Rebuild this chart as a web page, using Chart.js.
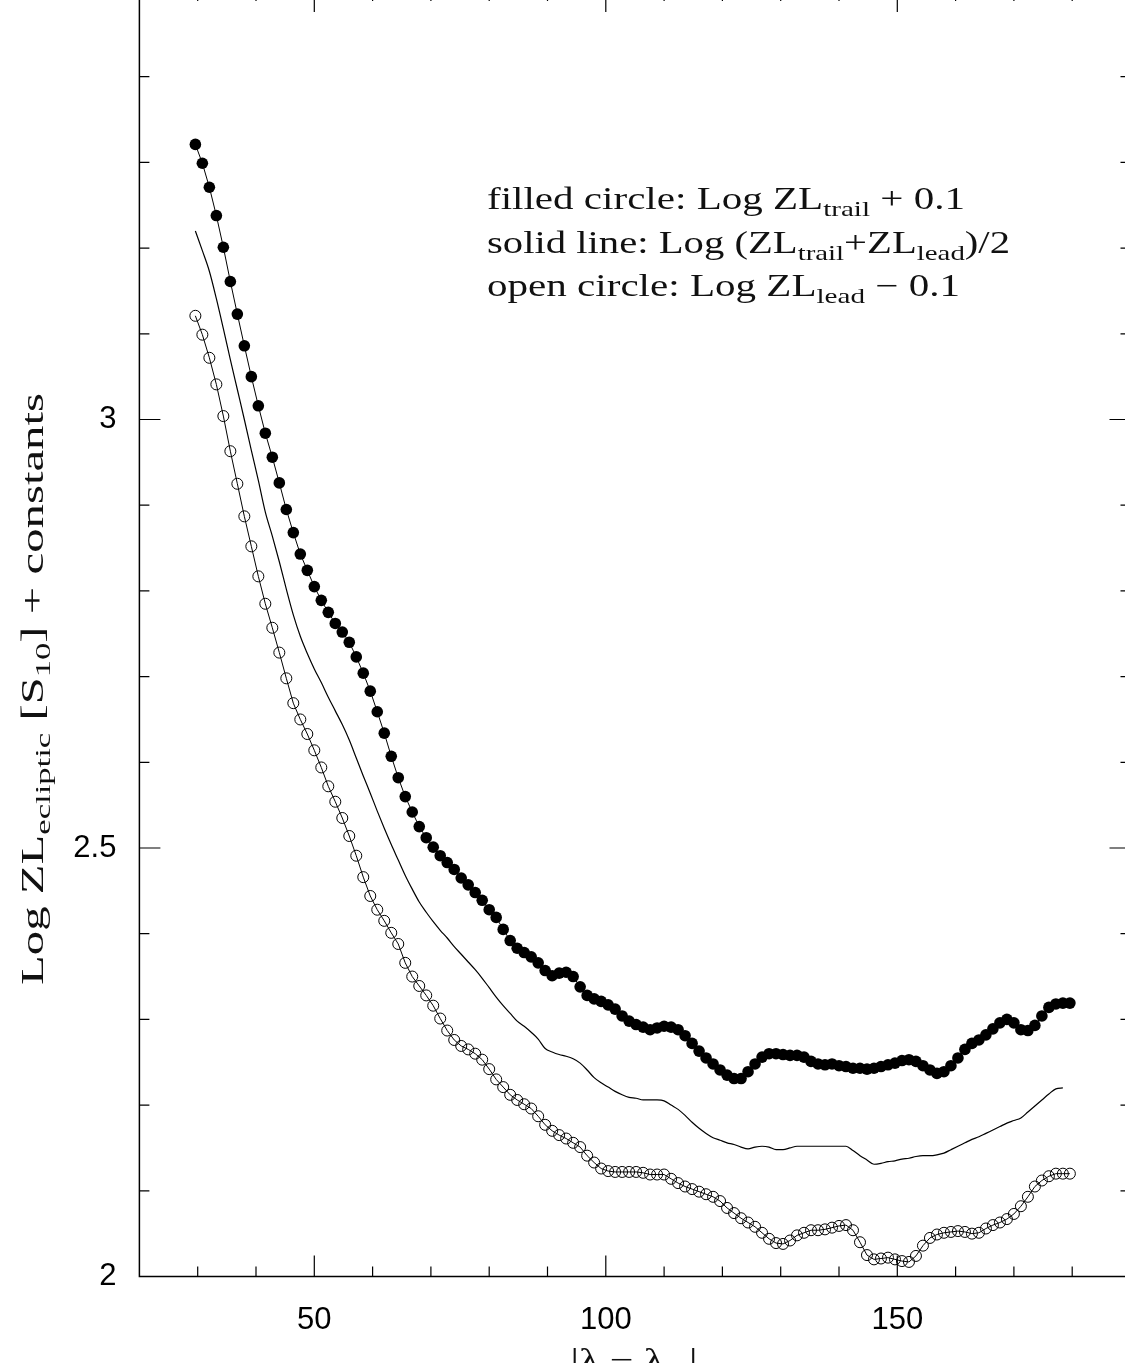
<!DOCTYPE html>
<html>
<head>
<meta charset="utf-8">
<script src="https://cdn.jsdelivr.net/npm/chart.js@4.4.0/dist/chart.umd.min.js"></script>
<style>
  html, body { margin: 0; padding: 0; background: #fff; overflow: hidden; }
  #wrap { position: absolute; left: 0; top: -20px; width: 1160px; height: 1400px; }
</style>
</head>
<body>
<div id="wrap"><canvas id="zl" width="1160" height="1400"></canvas></div>
<script>
// elongation |lambda - lambda_sun| in degrees
const lambda = [
  29.6, 30.8, 32.0, 33.2, 34.4, 35.6, 36.8, 38.0, 39.2, 40.4,
  41.6, 42.8, 44.0, 45.2, 46.4, 47.6, 48.8, 50.0, 51.2, 52.4,
  53.6, 54.8, 56.0, 57.2, 58.4, 59.6, 60.8, 62.0, 63.2, 64.4,
  65.6, 66.8, 68.0, 69.2, 70.4, 71.6, 72.8, 74.0, 75.2, 76.4,
  77.6, 78.8, 80.0, 81.2, 82.4, 83.6, 84.8, 86.0, 87.2, 88.4,
  89.6, 90.8, 92.0, 93.2, 94.4, 95.6, 96.8, 98.0, 99.2, 100.4,
  101.6, 102.8, 104.0, 105.2, 106.4, 107.6, 108.8, 110.0, 111.2, 112.4,
  113.6, 114.8, 116.0, 117.2, 118.4, 119.6, 120.8, 122.0, 123.2, 124.4,
  125.6, 126.8, 128.0, 129.2, 130.4, 131.6, 132.8, 134.0, 135.2, 136.4,
  137.6, 138.8, 140.0, 141.2, 142.4, 143.6, 144.8, 146.0, 147.2, 148.4,
  149.6, 150.8, 152.0, 153.2, 154.4, 155.6, 156.8, 158.0, 159.2, 160.4,
  161.6, 162.8, 164.0, 165.2, 166.4, 167.6, 168.8, 170.0, 171.2, 172.4,
  173.6, 174.8, 176.0, 177.2, 178.4, 179.6
];

// filled circles: Log ZL_trail + 0.1
const trail = [
  3.321, 3.299, 3.271, 3.238, 3.201, 3.161, 3.123, 3.086, 3.050, 3.016,
  2.984, 2.956, 2.926, 2.895, 2.868, 2.843, 2.824, 2.805, 2.789, 2.775,
  2.762, 2.752, 2.740, 2.723, 2.704, 2.683, 2.659, 2.634, 2.607, 2.582,
  2.560, 2.542, 2.525, 2.512, 2.501, 2.491, 2.483, 2.475, 2.465, 2.457,
  2.448, 2.439, 2.428, 2.419, 2.405, 2.392, 2.383, 2.378, 2.373, 2.366,
  2.357, 2.351, 2.354, 2.355, 2.350, 2.338, 2.328, 2.324, 2.321, 2.317,
  2.312, 2.304, 2.298, 2.294, 2.291, 2.288, 2.290, 2.292, 2.291, 2.288,
  2.281, 2.272, 2.263, 2.255, 2.248, 2.241, 2.235, 2.231, 2.231, 2.239,
  2.248, 2.256, 2.260, 2.260, 2.259, 2.258, 2.258, 2.256, 2.251, 2.248,
  2.247, 2.248, 2.246, 2.245, 2.243, 2.243, 2.242, 2.243, 2.245, 2.247,
  2.249, 2.252, 2.253, 2.251, 2.246, 2.241, 2.237, 2.239, 2.246, 2.255,
  2.265, 2.272, 2.276, 2.282, 2.289, 2.296, 2.300, 2.296, 2.288, 2.287,
  2.293, 2.304, 2.314, 2.318, 2.319, 2.319
];

// open circles: Log ZL_lead - 0.1
const lead = [
  3.121, 3.099, 3.072, 3.041, 3.004, 2.963, 2.925, 2.887, 2.852, 2.817,
  2.785, 2.757, 2.728, 2.698, 2.669, 2.650, 2.633, 2.614, 2.594, 2.572,
  2.554, 2.535, 2.514, 2.491, 2.466, 2.444, 2.428, 2.415, 2.401, 2.388,
  2.366, 2.350, 2.339, 2.328, 2.316, 2.301, 2.287, 2.276, 2.269, 2.265,
  2.260, 2.253, 2.242, 2.230, 2.221, 2.212, 2.206, 2.201, 2.196, 2.187,
  2.177, 2.170, 2.165, 2.161, 2.156, 2.151, 2.141, 2.133, 2.126, 2.123,
  2.122, 2.122, 2.122, 2.122, 2.121, 2.119, 2.119, 2.119, 2.114, 2.109,
  2.105, 2.102, 2.099, 2.096, 2.093, 2.088, 2.080, 2.074, 2.068, 2.063,
  2.058, 2.051, 2.044, 2.039, 2.038, 2.042, 2.048, 2.051, 2.054, 2.054,
  2.055, 2.057, 2.059, 2.060, 2.054, 2.040, 2.025, 2.020, 2.021, 2.022,
  2.020, 2.018, 2.017, 2.024, 2.036, 2.045, 2.049, 2.051, 2.052, 2.053,
  2.052, 2.050, 2.051, 2.056, 2.060, 2.063, 2.067, 2.073, 2.082, 2.093,
  2.105, 2.112, 2.117, 2.120, 2.120, 2.120
];

// solid line: Log (ZL_trail + ZL_lead)/2
const mean = [
  3.220, 3.197, 3.173, 3.141, 3.106, 3.070, 3.035, 3.000, 2.964, 2.929,
  2.892, 2.864, 2.834, 2.802, 2.772, 2.747, 2.727, 2.709, 2.693, 2.676,
  2.660, 2.644, 2.626, 2.605, 2.584, 2.564, 2.543, 2.523, 2.504, 2.486,
  2.468, 2.452, 2.437, 2.425, 2.414, 2.404, 2.395, 2.385, 2.376, 2.367,
  2.358, 2.348, 2.337, 2.326, 2.316, 2.307, 2.298, 2.292, 2.285, 2.277,
  2.266, 2.262, 2.259, 2.257, 2.254, 2.249, 2.241, 2.232, 2.226, 2.221,
  2.216, 2.212, 2.209, 2.208, 2.206, 2.206, 2.206, 2.205, 2.200, 2.195,
  2.188, 2.180, 2.173, 2.167, 2.162, 2.159, 2.156, 2.154, 2.151, 2.149,
  2.151, 2.152, 2.151, 2.148, 2.148, 2.150, 2.152, 2.152, 2.152, 2.152,
  2.152, 2.152, 2.152, 2.152, 2.147, 2.141, 2.136, 2.131, 2.132, 2.134,
  2.135, 2.137, 2.138, 2.140, 2.141, 2.141, 2.142, 2.144, 2.148, 2.152,
  2.156, 2.160, 2.163, 2.167, 2.171, 2.175, 2.179, 2.182, 2.185, 2.192,
  2.199, 2.206, 2.213, 2.219, 2.220, null
];

// axes
const xRange = [20, 190];
const yRange = [2, 3.5];
const xLabelTicks = [50, 100, 150];
const yLabelTicks = [2, 2.5, 3, 3.5];
const xAllTicks = [30, 40, 50, 60, 70, 80, 90, 100, 110, 120, 130, 140, 150, 160, 170, 180];
const yAllTicks = [2.1, 2.2, 2.3, 2.4, 2.5, 2.6, 2.7, 2.8, 2.9, 3.0, 3.1, 3.2, 3.3, 3.4];

// texts: [string, isSubscript]
const legendLines = [
  [['filled circle: Log ZL', 0], ['trail', 1], [' + 0.1', 0]],
  [['solid line: Log (ZL', 0], ['trail', 1], ['+ZL', 0], ['lead', 1], [')/2', 0]],
  [['open circle: Log ZL', 0], ['lead', 1], [' \u2212 0.1', 0]]
];
const yTitle = [['Log ZL', 0], ['ecliptic', 1], [' [S', 0], ['10', 1], ['] + constants', 0]];
const xTitle = [['|\u03bb \u2212 \u03bb', 0], ['\u2299', 1], ['|', 0]];

const OFF = 20; // canvas sits 20px above the page top
const SERIF = '"Liberation Serif", "DejaVu Serif", serif';

function pts(ys) {
  return lambda.map((x, i) => ({ x: x, y: ys[i] }));
}

function drawRich(ctx, parts, x, y, size, targetW, center) {
  ctx.save();
  ctx.fillStyle = '#111';
  ctx.textBaseline = 'alphabetic';
  let w = 0;
  parts.forEach(p => {
    ctx.font = (p[1] ? Math.round(size * 0.7) : size) + 'px ' + SERIF;
    w += ctx.measureText(p[0]).width;
  });
  const sx = targetW ? targetW / w : 1;
  ctx.translate(x, y);
  ctx.scale(sx, 1);
  let cx = center ? -w / 2 : 0;
  parts.forEach(p => {
    ctx.font = (p[1] ? Math.round(size * 0.7) : size) + 'px ' + SERIF;
    ctx.fillText(p[0], cx, p[1] ? size * 0.24 : 0);
    cx += ctx.measureText(p[0]).width;
  });
  ctx.restore();
}

const framePlugin = {
  id: 'frame',
  afterDatasetsDraw(chart) {
    const { ctx, chartArea: a, scales } = chart;
    const x = scales.x, y = scales.y;
    ctx.save();
    ctx.strokeStyle = '#000';
    ctx.lineWidth = 1.5;
    ctx.strokeRect(a.left, a.top, a.right - a.left, a.bottom - a.top);
    ctx.lineWidth = 1.2;
    ctx.beginPath();
    xAllTicks.forEach(v => {
      const px = x.getPixelForValue(v);
      const len = xLabelTicks.includes(v) ? 21 : 10;
      ctx.moveTo(px, a.bottom); ctx.lineTo(px, a.bottom - len);
      ctx.moveTo(px, a.top); ctx.lineTo(px, a.top + len);
    });
    yAllTicks.forEach(v => {
      const py = y.getPixelForValue(v);
      const len = yLabelTicks.includes(v) ? 21 : 10;
      ctx.moveTo(a.left, py); ctx.lineTo(a.left + len, py);
      ctx.moveTo(a.right, py); ctx.lineTo(a.right - len, py);
    });
    ctx.stroke();
    ctx.restore();
  },
  afterDraw(chart) {
    const ctx = chart.ctx;
    const widths = [478, 523, 473];
    const bases = [209, 253, 296];
    legendLines.forEach((ln, i) => drawRich(ctx, ln, 487, bases[i] + OFF, 31, widths[i], false));

    ctx.save();
    ctx.translate(43, 689 + OFF);
    ctx.rotate(-Math.PI / 2);
    drawRich(ctx, yTitle, 0, 0, 31, 592, true);
    ctx.restore();

    drawRich(ctx, xTitle, 634, 1370 + OFF, 31, 127, true);
  }
};

const tickFont = { family: '"Liberation Sans", Arial, sans-serif', size: 31 };

new Chart(document.getElementById('zl'), {
  type: 'scatter',
  data: {
    datasets: [
      {
        label: 'trail',
        data: pts(trail),
        showLine: true,
        borderColor: '#000',
        borderWidth: 1,
        pointRadius: 5.8,
        pointBackgroundColor: '#000',
        pointBorderColor: '#000',
        pointBorderWidth: 0
      },
      {
        label: 'mean',
        data: pts(mean),
        showLine: true,
        borderColor: '#000',
        borderWidth: 1.2,
        pointRadius: 0,
        cubicInterpolationMode: 'monotone'
      },
      {
        label: 'lead',
        data: pts(lead),
        showLine: true,
        borderColor: '#000',
        borderWidth: 1,
        pointRadius: 5.5,
        pointBackgroundColor: 'rgba(0,0,0,0)',
        pointBorderColor: '#000',
        pointBorderWidth: 1
      }
    ]
  },
  options: {
    responsive: false,
    animation: false,
    devicePixelRatio: 1,
    layout: { padding: { left: 0, top: 11, right: 29.5, bottom: 23.5 } },
    plugins: { legend: { display: false }, tooltip: { enabled: false } },
    scales: {
      x: {
        type: 'linear',
        min: xRange[0],
        max: xRange[1],
        grid: { display: false, drawTicks: false },
        border: { display: false },
        afterBuildTicks: s => { s.ticks = xLabelTicks.map(v => ({ value: v })); },
        afterFit: s => { s.height = 80; s.paddingLeft = 0; s.paddingRight = 0; },
        ticks: { font: tickFont, color: '#000', padding: 25, maxRotation: 0 }
      },
      y: {
        type: 'linear',
        min: yRange[0],
        max: yRange[1],
        grid: { display: false, drawTicks: false },
        border: { display: false },
        afterBuildTicks: s => { s.ticks = yLabelTicks.map(v => ({ value: v })); },
        afterFit: s => { s.width = 139.4; s.paddingTop = 0; s.paddingBottom = 0; },
        ticks: { font: tickFont, color: '#000', padding: 23, callback: v => String(v) }
      }
    }
  },
  plugins: [framePlugin]
});
</script>
</body>
</html>
